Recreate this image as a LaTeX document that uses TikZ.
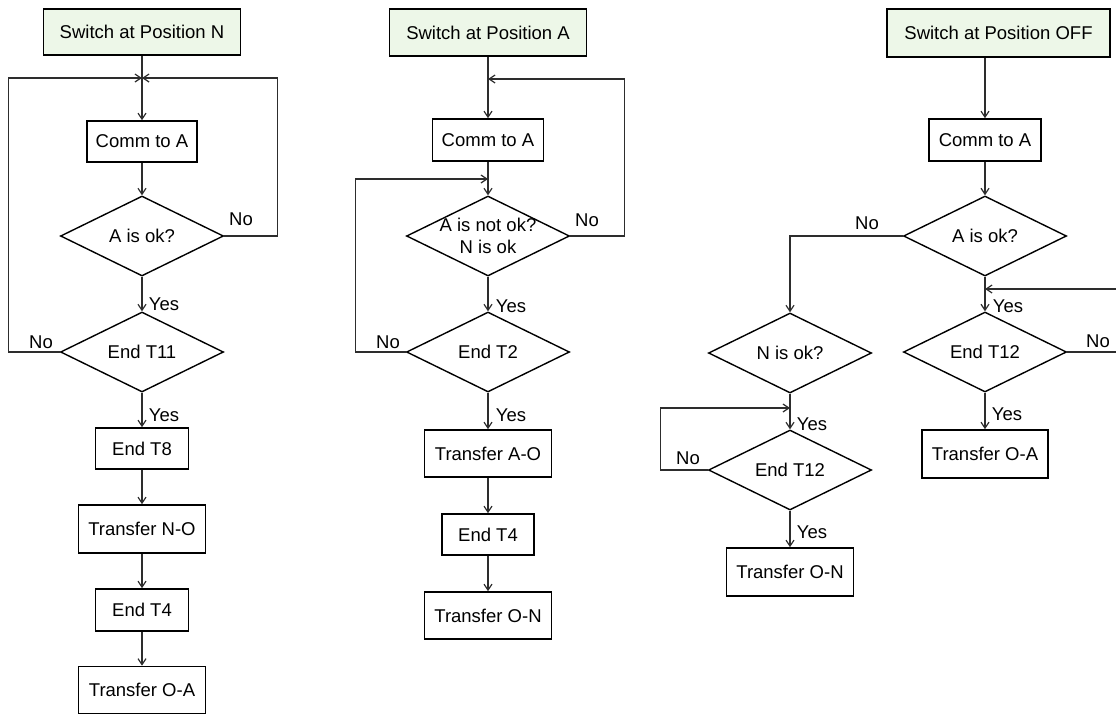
\documentclass[tikz,border=0pt]{standalone}
\usepackage{fontspec}
\setmainfont{Liberation Sans}
\usetikzlibrary{arrows.meta,shapes.geometric}
\definecolor{startfill}{RGB}{237,247,232}
\definecolor{conncol}{RGB}{45,45,45}
\begin{document}
\begin{tikzpicture}[x=1pt,y=-1pt,
  every node/.style={font=\fontsize{18.5}{22}\selectfont},
  box/.style={draw=black, line width=1.6pt, rectangle, inner sep=0pt},
  startbox/.style={box, fill=startfill},
  dia/.style={draw=black, line width=1.4pt, diamond, inner sep=0pt,
              minimum width=163pt, minimum height=80pt},
  lbl/.style={inner sep=0pt},
  conn/.style={draw=conncol, line width=1.2pt},
  arr/.style={conn, -{Straight Barb[length=6pt,width=8pt]}},
]
\useasboundingbox (0,0) rectangle (1116,715);
\clip (0,0) rectangle (1116,715);

% ---------------- Column 1 ----------------
\node[startbox, minimum width=197pt, minimum height=46pt] (s1) at (142,32) {Switch at Position N};
\node[box, minimum width=110pt, minimum height=41pt] (c1) at (142,141.5) {Comm to A};
\node[dia, label={[lbl,name=d1t]center:A is ok?}] (d1) at (142,236) {};
\node[dia, label={[lbl,name=e1t]center:End T11}] (e1) at (142,352) {};
\node[box, minimum width=93pt, minimum height=41pt] (t8) at (142,448.5) {End T8};
\node[box, minimum width=127pt, minimum height=48pt] (tno) at (142,529) {Transfer N-O};
\node[box, minimum width=93pt, minimum height=42pt] (t41) at (142,610) {End T4};
\node[box, minimum width=127pt, minimum height=47pt] (toa1) at (142,690) {Transfer O-A};
\coordinate (j1) at (142,78);

\draw[arr] (s1.south) -- (c1.north);
\draw[arr] (c1.south) -- (d1.north);
\draw[arr] (d1.south) -- (e1.north);
\draw[arr] (d1.east) -- ++(53.5,0) |- (j1);
\draw[arr] (e1.west) -- ++(-51.5,0) |- (j1);
\draw[arr] (e1.south) -- (t8.north);
\draw[arr] (t8.south) -- (tno.north);
\draw[arr] (tno.south) -- (t41.north);
\draw[arr] (t41.south) -- (toa1.north);

\node[lbl] (n1a) at (241,219) {No};
\node[lbl] (y1a) at (164,304) {Yes};
\node[lbl] (n1b) at (41,342) {No};
\node[lbl] (y1b) at (164,415) {Yes};

% ---------------- Column 2 ----------------
\node[startbox, minimum width=197pt, minimum height=47pt] (s2) at (488,32.5) {Switch at Position A};
\node[box, minimum width=111pt, minimum height=42pt] (c2) at (488,140) {Comm to A};
\node[dia, label={[lbl,name=d2t,align=center]center:A is not ok?\\N is ok}] (d2) at (488,236) {};
\node[dia, label={[lbl,name=e2t]center:End T2}] (e2) at (488,352) {};
\node[box, minimum width=127pt, minimum height=47pt] (tao) at (488,453.5) {Transfer A-O};
\node[box, minimum width=92pt, minimum height=41pt] (t42) at (488,534.5) {End T4};
\node[box, minimum width=127pt, minimum height=47pt] (ton2) at (488,615.5) {Transfer O-N};
\coordinate (j2a) at (488,79);
\coordinate (j2b) at (488,179);

\draw[arr] (s2.south) -- (c2.north);
\draw[arr] (c2.south) -- (d2.north);
\draw[arr] (d2.south) -- (e2.north);
\draw[arr] (d2.east) -- ++(54.5,0) |- (j2a);
\draw[arr] (e2.west) -- ++(-50.5,0) |- (j2b);
\draw[arr] (e2.south) -- (tao.north);
\draw[arr] (tao.south) -- (t42.north);
\draw[arr] (t42.south) -- (ton2.north);

\node[lbl] (n2a) at (587,220) {No};
\node[lbl] (y2a) at (511,306) {Yes};
\node[lbl] (n2b) at (388,342) {No};
\node[lbl] (y2b) at (511,415) {Yes};

% ---------------- Column 3 ----------------
\node[startbox, minimum width=223pt, minimum height=48pt] (s3) at (998.5,33) {Switch at Position OFF};
\node[box, minimum width=112pt, minimum height=42pt] (c3) at (985,140) {Comm to A};
\node[dia, label={[lbl,name=d3t]center:A is ok?}] (d3) at (985,236) {};
\node[dia, label={[lbl,name=e3t]center:End T12}] (e3) at (985,352) {};
\node[box, minimum width=126pt, minimum height=48pt] (toa3) at (985,454) {Transfer O-A};
\node[dia, label={[lbl,name=n3t]center:N is ok?}] (n3) at (790,353) {};
\node[dia, label={[lbl,name=e4t]center:End T12}] (e4) at (790,470) {};
\node[box, minimum width=127pt, minimum height=48pt] (ton3) at (790,572) {Transfer O-N};
\coordinate (j3) at (985,289);
\coordinate (j4) at (790,408);

\draw[arr] (s3.south -| c3.north) -- (c3.north);
\draw[arr] (c3.south) -- (d3.north);
\draw[arr] (d3.south) -- (e3.north);
\draw[arr] (e3.east) -- ++(70,0) |- (j3);
\draw[arr] (e3.south) -- (toa3.north);
\draw[arr] (d3.west) -| (n3.north);
\draw[arr] (n3.south) -- (e4.north);
\draw[arr] (e4.west) -- ++(-47.5,0) |- (j4);
\draw[arr] (e4.south) -- (ton3.north);

\node[lbl] (n3a) at (867,223) {No};
\node[lbl] (y3a) at (1008,306) {Yes};
\node[lbl] (n3b) at (1098,341) {No};
\node[lbl] (y3b) at (1007,414) {Yes};
\node[lbl] (y4a) at (812,424) {Yes};
\node[lbl] (n4a) at (688,458) {No};
\node[lbl] (y4b) at (812,532) {Yes};
\end{tikzpicture}
\end{document}
